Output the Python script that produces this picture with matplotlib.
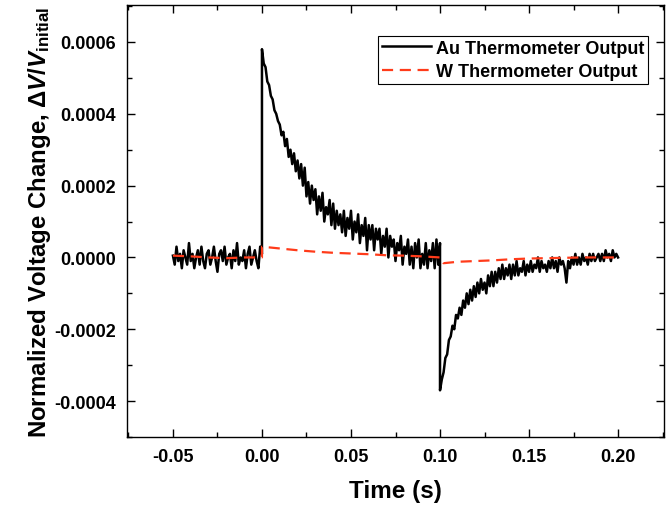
import numpy as np
import matplotlib
matplotlib.use("Agg")
import matplotlib.pyplot as plt

plt.rcParams['font.family'] = ['Liberation Sans', 'DejaVu Sans']
plt.rcParams['font.weight'] = 'bold'
plt.rcParams['mathtext.fontset'] = 'custom'
plt.rcParams['mathtext.it'] = 'Liberation Sans:italic:bold'
plt.rcParams['mathtext.rm'] = 'Liberation Sans:bold'
plt.rcParams['mathtext.bf'] = 'Liberation Sans:bold'

SCALE = 1e-5  # values below are in units of 1e-5

# Au thermometer: pre-trigger (-0.05 .. 0.0 s, 1 ms steps)
au_pre = [0.5, -2, 3, -1, 1, -3, 2, 0, -2, 4, -1, 1, -3, 0, 2, -2, 3, -1, -3, 1,
          2, -2, 0, 3, -1, -4, 1, 2, -1, 3, -2, 0, 1, -3, 2, -1, 4, -2, 0, -1,
          2, -3, 1, 3, -2, 0, 2, -1, -3, 3, 1]
# heating on (0.0 .. 0.1 s)
au_heat = [58, 54, 53, 49, 48, 45, 44, 41, 40, 38, 37,
           34, 35, 31, 33, 28, 30, 26, 29, 24, 27,
           22, 26, 20, 25, 17, 21, 15, 20, 16, 19,
           12, 17, 13, 18, 10, 14, 12, 16, 9, 15,
           8, 13, 9, 12, 7, 13, 6, 11, 8, 13,
           5, 10, 7, 12, 4, 9, 6, 11, 2, 9,
           5, 9, 2, 8, 5, 8, 1, 6, 3, 8,
           0, 6, 3, 5, -1, 4, 2, 6, -2, 3,
           1, 5, -2, 3, -3, 4, 0, 5, -3, 1,
           -2, 4, -3, 2, -1, 4, -3, 5, -2, 4]
# heating off (0.1 .. 0.2 s)
au_cool = [-37, -34, -32, -28, -27, -23, -22, -19, -20, -16, -17,
           -14, -16, -12, -14, -10, -13, -9, -12, -8, -11,
           -7, -10, -6, -9, -7, -10, -5, -8, -4, -8,
           -4, -7, -3, -6, -2, -6, -3, -5, -2, -6,
           -2, -5, -1, -5, -3, -4, -1, -5, -2, -4,
           -1, -4, -2, -3, 0, -4, -1, -3, -2, -4,
           -1, -3, 0, -3, -1, -4, 0, -2, -1, -3,
           -7, -1, -3, 0, -2, 1, -2, 0, -2, 1,
           -1, 0, -2, 1, -1, 1, -1, 0, 1, -1,
           1, -1, 2, 0, 1, -1, 2, 0, 1, 0]

# W thermometer
w_t = [-0.05, -0.04, -0.03, -0.02, -0.01, 0.0, 0.0, 0.01, 0.02, 0.03, 0.04, 0.05, 0.06, 0.07,
       0.08, 0.09, 0.1, 0.102, 0.11, 0.12, 0.13, 0.14, 0.15, 0.16, 0.17, 0.18, 0.19, 0.2]
w_v = [0.5, 0.3, 0.0, -0.2, 0.0, 0.0, 3.0, 2.5, 2.0, 1.6, 1.3, 1.1, 0.9, 0.6,
       0.5, 0.3, 0.0, -1.6, -1.2, -1.0, -0.8, -0.5, -0.3, -0.2, -0.1, 0.0, 0.0, 0.0]

x_ticks = [-0.05, 0.00, 0.05, 0.10, 0.15, 0.20]
y_ticks = [-0.0004, -0.0002, 0.0, 0.0002, 0.0004, 0.0006]

t_pre = np.linspace(-0.05, 0.0, len(au_pre))
t_heat = np.linspace(0.0, 0.1, len(au_heat))
t_cool = np.linspace(0.1, 0.2, len(au_cool))
au_t = np.concatenate([t_pre, t_heat, t_cool])
au_v = np.concatenate([au_pre, au_heat, au_cool]) * SCALE

fig = plt.figure(figsize=(6.7, 5.1), dpi=100)
ax = fig.add_axes([127/670, 72/510, 537/670, 432/510])

ax.plot(au_t, au_v, color='black', lw=1.8, label='Au Thermometer Output')
ax.plot(w_t, np.array(w_v) * SCALE, color='#ff3b1a', lw=1.6, dashes=(5, 3),
        label='W Thermometer Output')

ax.set_xlim(-0.0758, 0.2258)
ax.set_ylim(-0.000497, 0.000703)
ax.set_xticks(x_ticks)
ax.set_xticklabels([f"{v:.2f}" for v in x_ticks])
ax.set_yticks(y_ticks)
ax.set_yticklabels([f"{v:.4f}" for v in y_ticks])
ax.set_xticks([-0.075, -0.025, 0.025, 0.075, 0.125, 0.175, 0.225], minor=True)
ax.set_yticks([-0.0005, -0.0003, -0.0001, 0.0001, 0.0003, 0.0005, 0.0007], minor=True)
ax.tick_params(which='both', direction='in', top=True, right=True, width=1)
ax.tick_params(which='major', length=6, labelsize=13, pad=8)
ax.tick_params(which='minor', length=3.5)
for lab in ax.get_xticklabels() + ax.get_yticklabels():
    lab.set_fontweight('bold')
for s in ax.spines.values():
    s.set_linewidth(1.0)

ax.set_xlabel('Time (s)', fontsize=17.5, fontweight='bold', labelpad=10)
ax.set_ylabel(r'Normalized Voltage Change, $\mathit{\Delta V/V}_{\mathrm{initial}}$',
              fontsize=17.3, fontweight='bold', labelpad=1)

leg = ax.legend(loc='upper right', bbox_to_anchor=((648-127)/537, 1-(37-6)/432),
                borderaxespad=0, fancybox=False, edgecolor='black', framealpha=1,
                prop={'size': 13, 'weight': 'bold'}, handlelength=2.7,
                handletextpad=0.3, labelspacing=0.35, borderpad=0.2)
leg.get_frame().set_linewidth(0.8)

fig.savefig('out.png', dpi=100)
